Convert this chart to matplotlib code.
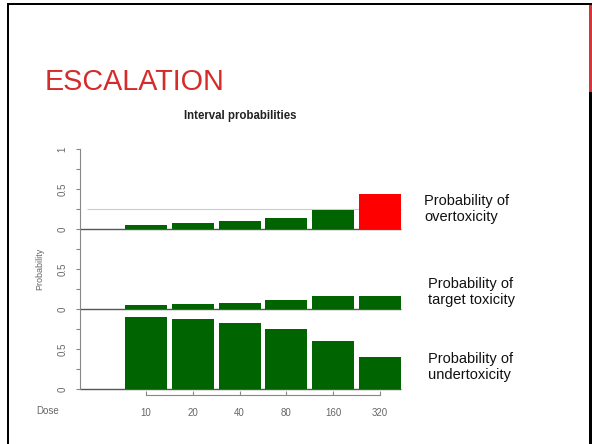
## Interval probabilities slide (escalation step)

import numpy as np
import matplotlib.pyplot as plt
from matplotlib.patches import Rectangle

plt.rcParams['font.family'] = ['Liberation Sans', 'DejaVu Sans']

# Data
doses = ['10', '20', '40', '80', '160', '320']
p_over = [0.05, 0.07, 0.10, 0.14, 0.24, 0.44]
p_target = [0.05, 0.06, 0.08, 0.11, 0.16, 0.16]
p_under = [0.90, 0.87, 0.82, 0.75, 0.60, 0.40]
over_limit = 0.25
panel_labels = ['Probability of\nundertoxicity',
                'Probability of\ntarget toxicity',
                'Probability of\novertoxicity']

W, H = 592, 444
GREEN = '#006400'
GRAY = '#666666'


def rect(l, t, r, b):
    # pixel box -> figure fraction
    return [l / W, 1 - b / H, (r - l) / W, (b - t) / H]


fig = plt.figure(figsize=(W / 100, H / 100), dpi=100)

# chart axes: three stacked panels, offsets 0 (under), 1 (target), 2 (over)
ax = fig.add_axes(rect(80, 149, 410, 395.4))
x = np.arange(1, len(doses) + 1)
x_left, x_right = -0.41, 6.641
ax.set_xlim(x_left, x_right)
ax.set_ylim(-0.08, 3.0)

bar_w = 0.9
over_cols = ['#ff0000' if p > over_limit else GREEN for p in p_over]
ax.bar(x, p_under, bar_w, bottom=0, color=GREEN, zorder=3)
ax.bar(x, p_target, bar_w, bottom=1, color=GREEN, zorder=3)
ax.bar(x, p_over, bar_w, bottom=2, color=over_cols, zorder=3)

# limit line in top panel and zero lines of each panel
ax.hlines(2 + over_limit, -0.26, x[-1] + bar_w / 2, color='#cccccc', lw=0.8, zorder=1)
for off in [0, 1, 2]:
    ax.hlines(off, x_left, x[-1] + bar_w / 2, color='#555555', lw=1.0, zorder=2)

for s in ['top', 'right']:
    ax.spines[s].set_visible(False)
ax.spines['left'].set_bounds(0, 3)
ax.spines['left'].set_color('#888888')
ax.spines['bottom'].set_bounds(1, 6)
ax.spines['bottom'].set_color('#888888')

yt = np.arange(0, 3.01, 0.25)
ylab = []
for v in yt:
    if v == 3:
        ylab.append('1')
    elif v % 1 == 0:
        ylab.append('0')
    elif v % 1 == 0.5:
        ylab.append('0.5')
    else:
        ylab.append('')
ax.set_yticks(yt)
ax.set_yticklabels(ylab, rotation=90, va='center')
ax.tick_params(axis='y', direction='out', length=3, width=0.8, color='#888888',
               labelsize=7, labelcolor=GRAY, pad=6)

ax.set_xticks(x)
ax.set_xticklabels(doses)
ax.tick_params(axis='x', direction='in', length=3, width=0.8, color='#888888',
               labelsize=7, labelcolor=GRAY, pad=9)

# texts placed in pixel coordinates
def ftext(px, py, s, **kw):
    fig.text(px / W, 1 - py / H, s, **kw)


ftext(45, 82, 'ESCALATION', fontsize=20.7, color='#d52b2b', va='center', ha='left')
ftext(240, 116, 'Interval probabilities', fontsize=8.3, fontweight='bold',
      color='#222222', ha='center', va='center')
ftext(40, 269, 'Probability', fontsize=6.5, color=GRAY, rotation=90,
      ha='center', va='center')
ftext(48, 411, 'Dose', fontsize=7, color=GRAY, ha='center', va='center')

for (px, py), s in zip([(428, 367), (428, 292), (424, 209)], panel_labels):
    ftext(px, py, s, fontsize=10.5, color='#111111', ha='left', va='center')

# slide frame (pixel rectangles)
for l, t, r, b, c in [(7, 3, 590, 5.5, 'black'),
                      (7, 3, 9, H, 'black'),
                      (589, 3, W, 92, '#d9343a'),
                      (589, 92, W, H, 'black')]:
    fig.patches.append(Rectangle((l / W, 1 - b / H), (r - l) / W, (b - t) / H,
                                 transform=fig.transFigure, color=c, lw=0))
# top line sits above the red strip
fig.patches.append(Rectangle((589 / W, 1 - 5.5 / H), 3 / W, 2.5 / H,
                             transform=fig.transFigure, color='black', lw=0))

fig.savefig('out.png', dpi=100)
